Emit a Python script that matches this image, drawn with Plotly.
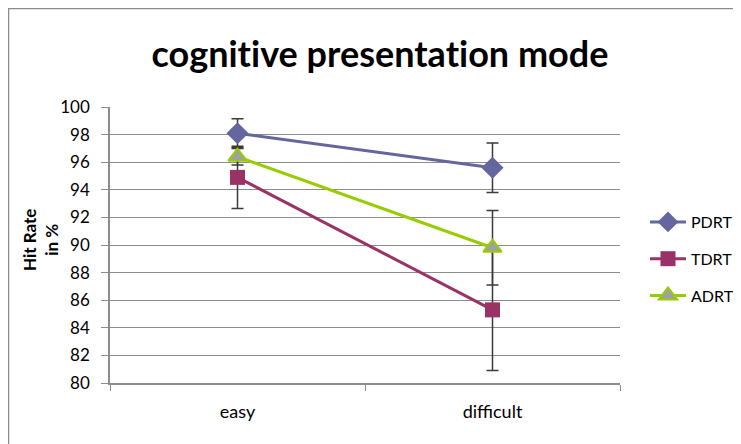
import plotly.graph_objects as go

categories = ["easy", "difficult"]
pdrt = [98.1, 95.6]
pdrt_err = [1.05, 1.8]
tdrt = [94.9, 85.3]
tdrt_err = [2.25, 4.4]
adrt = [96.4, 89.8]
adrt_err = [0.6, 2.7]
y_ticks = list(range(80, 101, 2))

FONT = "Lato"
W, H = 741, 444
OFF = 8  # page body margin
L, T, B = 102, 99, 69
R = W - L - 510
pw, ph = W - L - R, H - T - B


def px_x(px):
    # screen px -> paper x
    return (px - OFF - L) / pw


def px_y(py):
    return (H - B - (py - OFF)) / ph


fig = go.Figure()

err_style = dict(type="data", color="#3a3a3a", thickness=1.5, width=6)

fig.add_trace(go.Scatter(
    x=categories, y=pdrt, name="PDRT", mode="lines+markers",
    line=dict(color="#66669f", width=3),
    marker=dict(symbol="diamond", size=17, color="#66669f"),
    error_y=dict(array=pdrt_err, **err_style),
    legendgroup="a",
))
fig.add_trace(go.Scatter(
    x=categories, y=tdrt, name="TDRT", mode="lines+markers",
    line=dict(color="#993366", width=3),
    marker=dict(symbol="square", size=15, color="#993366"),
    error_y=dict(array=tdrt_err, **err_style),
    legendgroup="b",
))
fig.add_trace(go.Scatter(
    x=categories, y=adrt, name="ADRT", mode="lines+markers",
    line=dict(color="#99cc00", width=3),
    marker=dict(symbol="triangle-up", size=16, color="#a0a0a0",
                line=dict(color="#99cc00", width=2)),
    error_y=dict(array=adrt_err, **err_style),
    legendgroup="c",
))

# outer chart border
fig.add_shape(type="rect", xref="paper", yref="paper",
              x0=px_x(8.5), x1=px_x(790), y0=px_y(480), y1=px_y(8.5),
              line=dict(color="#8c8c8c", width=1.5))

fig.add_annotation(text="<b>Hit Rate<br>in %</b>", xref="paper", yref="paper",
                   x=px_x(40), y=px_y(240), xanchor="center", yanchor="middle",
                   textangle=-90, showarrow=False,
                   font=dict(family=FONT, size=17, color="black"))

fig.update_layout(
    width=W, height=H,
    margin=dict(l=L, r=R, t=T, b=B, autoexpand=False),
    paper_bgcolor="white", plot_bgcolor="white",
    font=dict(family=FONT, size=17, color="black"),
    title=dict(text="<b>cognit\u200cive presentat\u200cion mode</b>",
               x=(380 - OFF) / W, xanchor="center",
               y=1 - (54 - OFF) / H, yanchor="middle",
               font=dict(family=FONT, size=36, color="black")),
    legend=dict(x=px_x(645), xanchor="left", y=px_y(205), yanchor="top",
                traceorder="grouped", tracegroupgap=13, itemwidth=36,
                font=dict(family=FONT, size=16, color="black"),
                bgcolor="rgba(0,0,0,0)"),
    showlegend=True,
)

fig.update_xaxes(
    type="category", range=[-0.5, 1.5], tickson="boundaries",
    ticks="outside", ticklen=6, tickcolor="#8c8c8c",
    showline=True, linecolor="#8c8c8c", linewidth=1.5,
    showgrid=False, tickfont=dict(size=18), ticklabelstandoff=12,
)
fig.update_yaxes(
    range=[80, 100], tickvals=y_ticks,
    ticks="outside", ticklen=7, tickcolor="#8c8c8c",
    showline=True, linecolor="#8c8c8c", linewidth=1.5,
    showgrid=True, gridcolor="#8c8c8c", gridwidth=1,
    zeroline=False, tickfont=dict(size=17), ticklabelstandoff=8,
)

fig.write_html("out.html")
